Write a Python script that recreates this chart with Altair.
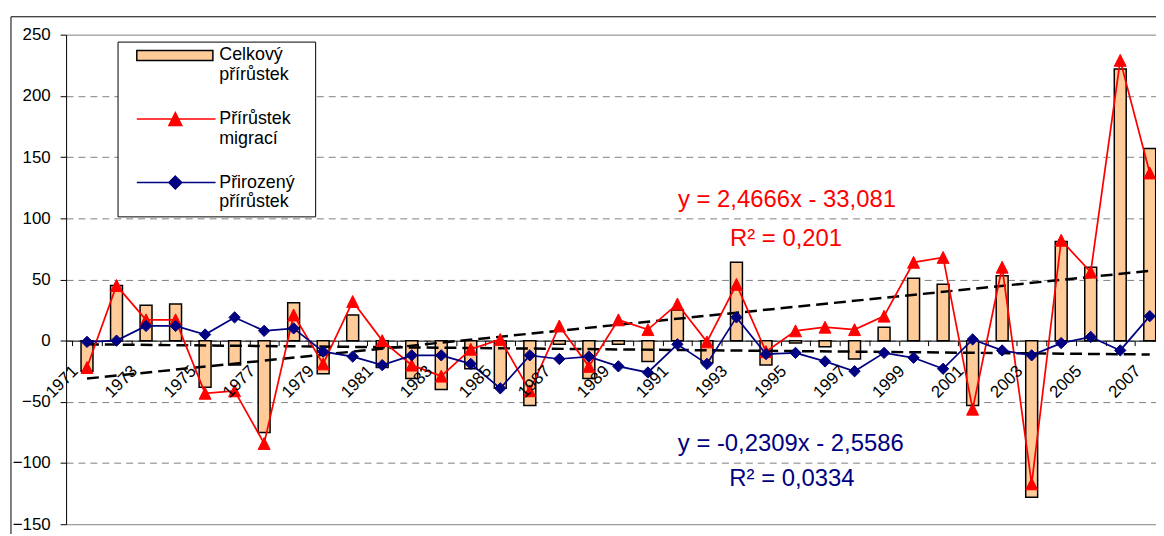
import altair as alt
import pandas as pd

# ---------------- data ----------------
years = list(range(1971, 2008))
celkovy = [-25, 45, 29, 30, -38, -20, -75, 31, -27, 21, -22, -31, -40, -23, -39, -53, -3, -31, -3, -17,
           25, -18, 64, -20, -2, -5, -15, 11, 51, 46, -53, 53, -128, 81, 60, 222, 157]
migrace = [-22, 45, 17, 17, -43, -41, -84, 21, -19, 32, 0, -20, -29, -7, 1, -41, 12, -21, 17, 9,
           30, -1, 46, -9, 8, 11, 9, 20, 64, 68, -56, 60, -117, 82, 56, 229, 137]
prirozeny = [-1, 0, 12, 12, 5, 19, 8, 10, -9, -13, -20, -12, -12, -19, -39, -12, -15, -13, -21, -26,
             -3, -19, 19, -11, -10, -17, -25, -10, -14, -23, 1, -8, -12, -2, 3, -8, 20]

series_names = ["Celkový přírůstek", "Přírůstek migrací", "Přirozený přírůstek"]
fill_colors = ["#FFCC99", "#FF0000", "#000080"]
stroke_colors = ["#000000", "#FF0000", "#000080"]

label_years = list(range(1971, 2008, 2))
y_ticks = [-150, -100, -50, 0, 50, 100, 150, 200, 250]
x_boundaries = [y + 0.5 for y in range(1970, 2007)]

eq_texts = ["y = 2,4666x - 33,081", "R² = 0,201", "y = -0,2309x - 2,5586", "R² = 0,0334"]
eq_x = [1994.71, 1994.68, 1994.84, 1994.88]
eq_y = [114.5, 82.9, -84.3, -112.7]
eq_colors = ["#FF0000", "#FF0000", "#000080", "#000080"]

# ---------------- tables ----------------
rows = []
for name, vals in zip(series_names, [celkovy, migrace, prirozeny]):
    for yr, v in zip(years, vals):
        rows.append({"year": yr, "series": name, "value": v})
df = pd.DataFrame(rows)

labels_df = pd.DataFrame({"year": label_years, "value": [0] * len(label_years),
                          "label": [str(y) for y in label_years]})
eq_df = pd.DataFrame({"year": eq_x, "value": eq_y, "label": eq_texts, "col": eq_colors})
frame_df = pd.DataFrame({"k": [0]})

FONT = "Liberation Sans"
W, H = 1097.5, 493
X_MIN = 1970.46
X_MAX = X_MIN + W / 30.0
ZERO_PX = 250 / 400 * H

x_scale = alt.Scale(domain=[X_MIN, X_MAX], nice=False, zero=False)
y_scale = alt.Scale(domain=[-150, 250], nice=False)

x_axis = alt.Axis(values=x_boundaries, labels=False, title=None, grid=False, ticks=True,
                  tickSize=5, tickColor="black", tickWidth=1, domainColor="black",
                  domainWidth=1, offset=ZERO_PX - H)
y_axis = alt.Axis(values=y_ticks, title=None, tickSize=6, tickColor="black", tickWidth=1,
                  domainColor="black", domainWidth=1, labelPadding=10, labelFont=FONT,
                  labelFontSize=17, labelColor="black", labelFlush=False, labelOverlap=False,
                  grid=True, gridColor="#808080", gridWidth=1,
                  gridDash=alt.condition("datum.value == 250 || datum.value == -150",
                                         alt.value([]), alt.value([7, 5])))

X = alt.X("year:Q", scale=x_scale, axis=x_axis)
Y = alt.Y("value:Q", scale=y_scale, axis=y_axis)

# legend symbols (units of 6 px, symbolSize 144)
ext = "M-8.867,0M22.133,0"
BAR_PATH = ext + "M-6.467,-0.833H6.3V0.833H-6.467Z"
MIG_PATH = ext + "M-6.467,0H6.75M0,-1.083L1.083,1.083L-1.083,1.083Z"
NAT_PATH = ext + "M-6.467,0H6.75M0,-1.083L1.083,0L0,1.083L-1.083,0Z"
TRI = "M0,-1L1,1L-1,1Z"

fill_scale = alt.Scale(domain=series_names, range=fill_colors)
stroke_scale = alt.Scale(domain=series_names, range=stroke_colors)
shape_scale = alt.Scale(domain=series_names, range=[BAR_PATH, MIG_PATH, NAT_PATH])

LEG = alt.Legend(title=None, orient="none", legendX=51.8, legendY=7, direction="vertical",
                 padding=5, strokeColor="black", fillColor="white",
                 labelFont=FONT, labelFontSize=18, labelColor="black",
                 labelOffset=35.2, symbolOffset=44.2, symbolSize=144, symbolStrokeWidth=1.5,
                 rowPadding=25, labelLimit=400, labelBaseline="middle",
                 labelExpr="split(datum.label, ' ')")

bars = alt.Chart(df).transform_filter(alt.datum.series == series_names[0]).mark_bar(
    size=12, fill=fill_colors[0], stroke="black", strokeWidth=1.5
).encode(x=X, y=Y, y2=alt.datum(0))

trend = alt.Chart(df).transform_filter(
    alt.FieldOneOfPredicate(field="series", oneOf=series_names[1:])
).transform_regression(
    on="year", regression="value", groupby=["series"], extent=[1971, 2007]
).mark_line(color="black", strokeWidth=2.5, strokeDash=[12, 6]).encode(
    x=X, y=Y, detail="series:N")

line_mig = alt.Chart(df).transform_filter(alt.datum.series == series_names[1]).mark_line(
    color=stroke_colors[1], strokeWidth=1.75).encode(x=X, y=Y)
line_nat = alt.Chart(df).transform_filter(alt.datum.series == series_names[2]).mark_line(
    color=stroke_colors[2], strokeWidth=1.75).encode(x=X, y=Y)

pts_mig = alt.Chart(df).transform_filter(alt.datum.series == series_names[1]).mark_point(
    shape=TRI, size=144, filled=True, fill=fill_colors[1], stroke=stroke_colors[1],
    strokeWidth=1, opacity=1).encode(x=X, y=Y)
pts_nat = alt.Chart(df).transform_filter(alt.datum.series == series_names[2]).mark_point(
    shape="diamond", size=130, filled=True, fill=fill_colors[2], stroke=stroke_colors[2],
    strokeWidth=1, opacity=1).encode(x=X, y=Y)

legend_layer = alt.Chart(df).transform_filter("false").mark_point(filled=True, opacity=1).encode(
    x=X, y=Y,
    fill=alt.Fill("series:N", scale=fill_scale, legend=LEG),
    stroke=alt.Stroke("series:N", scale=stroke_scale, legend=LEG),
    shape=alt.Shape("series:N", scale=shape_scale, legend=LEG),
)

year_labels = alt.Chart(labels_df).mark_text(
    angle=315, align="right", baseline="middle", font=FONT, fontSize=17, color="black",
    xOffset=-11.6, yOffset=28.2).encode(x=X, y=Y, text="label:N")

eqs = alt.Chart(eq_df).mark_text(align="center", baseline="middle", font=FONT, fontSize=24).encode(
    x=X, y=Y, text="label:N", color=alt.Color("col:N", scale=None))

frame_top = alt.Chart(frame_df).mark_rule(color="black", strokeWidth=1).encode(
    x=alt.value(-55.5), x2=alt.value(W), y=alt.value(-18))
frame_left = alt.Chart(frame_df).mark_rule(color="black", strokeWidth=1).encode(
    x=alt.value(-55.5), y=alt.value(-18), y2=alt.value(H + 20))

chart = alt.layer(
    bars, trend, line_mig, line_nat, pts_mig, pts_nat, legend_layer, year_labels, eqs,
    frame_top, frame_left
).properties(
    width=W, height=H,
    autosize=alt.AutoSizeParams(type="none"),
    padding={"left": 58.5, "top": 25, "right": 0, "bottom": 8},
    background="white",
).configure_view(strokeWidth=0)

chart.save("out.html", embed_options={"renderer": "svg", "actions": False})
